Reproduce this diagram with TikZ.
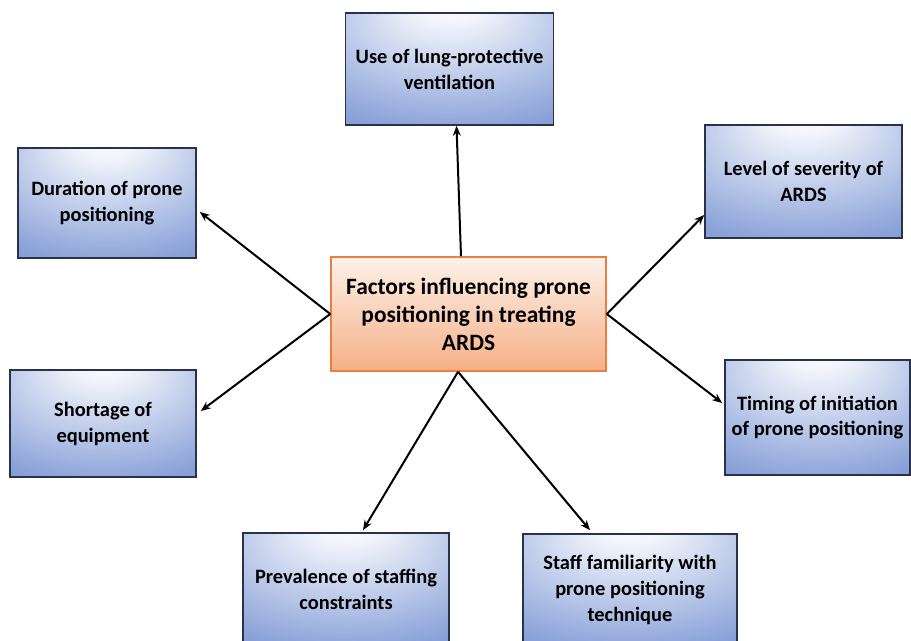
\documentclass[tikz,border=0pt]{standalone}
\usepackage{fontspec}
\setmainfont{Carlito}
\usetikzlibrary{arrows.meta}
\definecolor{boxblue}{RGB}{88,122,200}
\definecolor{boxedge}{RGB}{40,50,75}
\definecolor{peachtop}{RGB}{253,242,234}
\definecolor{peachbot}{RGB}{245,175,135}
\definecolor{orangeedge}{RGB}{236,125,60}
\pgfdeclareradialshading{bluebox}{\pgfpoint{0bp}{32bp}}{color(0bp)=(white); color(8bp)=(white!92!boxblue); color(42bp)=(boxblue!70!white); color(75bp)=(boxblue)}
\tikzset{
  bluenode/.style={draw=boxedge, line width=1.6bp, shading=bluebox, align=center, font=\bfseries\fontsize{20.5}{26}\selectfont, inner sep=1bp},
  hubnode/.style={draw=orangeedge, line width=1.6bp, top color=peachtop, bottom color=peachbot, align=center, font=\bfseries\fontsize{23.5}{28}\selectfont, inner sep=1bp},
  conn/.style={line width=2bp, -{Stealth[length=10bp,width=8bp]}}
}
\begin{document}
\begin{tikzpicture}[x=1bp,y=-1bp]
\useasboundingbox (0,0) rectangle (911,641);
\clip (0,0) rectangle (911,641);
\fill[white] (0,0) rectangle (911,641);
\node[hubnode, minimum width=275bp, minimum height=114bp] (c) at (468.5,314) {Factors influencing prone\\positioning in treating\\ARDS};
\node[bluenode, minimum width=208bp, minimum height=112bp] (top) at (449.5,69) {Use of lung-protective\\ventilation};
\node[bluenode, minimum width=178bp, minimum height=110bp] (dur) at (107,203) {Duration of prone\\positioning};
\node[bluenode, minimum width=197bp, minimum height=113bp] (lvl) at (803.5,181.5) {Level of severity of\\ARDS};
\node[bluenode, minimum width=186bp, minimum height=107bp] (short) at (103,423.5) {Shortage of\\equipment};
\node[bluenode, minimum width=185bp, minimum height=115bp] (tim) at (817.5,417.5) {Timing of initiation\\of prone positioning};
\node[bluenode, minimum width=206bp, minimum height=112bp] (prev) at (346,589) {Prevalence of staffing\\constraints};
\node[bluenode, minimum width=214bp, minimum height=112bp] (staff) at (630,590) {Staff familiarity with\\prone positioning\\technique};
\draw[conn] ([xshift=-7.5bp]c.north) -- ([xshift=7bp]top.south);
\draw[conn] (c.west) -- ([xshift=3bp,yshift=-9bp]dur.east);
\draw[conn] (c.west) -- ([xshift=4bp,yshift=12.5bp]short.east);
\draw[conn] (c.east) -- ([yshift=-33.5bp]lvl.west);
\draw[conn] (c.east) -- ([xshift=-2bp,yshift=14.5bp]tim.west);
\draw[conn] ([xshift=-10.5bp]c.south) -- ([xshift=17bp,yshift=2bp]prev.north);
\draw[conn] ([xshift=-10.5bp]c.south) -- ([xshift=-40bp,yshift=3bp]staff.north);
\end{tikzpicture}
\end{document}
